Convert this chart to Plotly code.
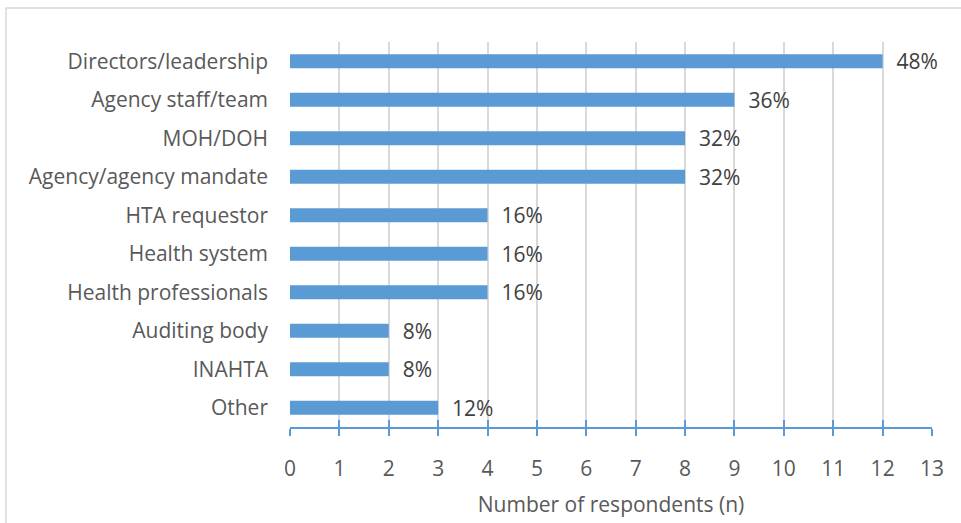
import plotly.graph_objects as go

categories = ["Directors/leadership", "Agency staff/team", "MOH/DOH", "Agency/agency mandate",
              "HTA requestor", "Health system", "Health professionals", "Auditing body", "INAHTA", "Other"]
counts = [12, 9, 8, 8, 4, 4, 4, 2, 2, 3]
pct_labels = ["48%", "36%", "32%", "32%", "16%", "16%", "16%", "8%", "8%", "12%"]
tick_vals = list(range(0, 14))

FONT = "Open Sans"
FS = 21
fig = go.Figure(go.Bar(
    y=categories, x=counts, orientation="h",
    marker=dict(color="#5B9BD5", line=dict(width=0)),
    text=pct_labels, texttemplate="\u00a0\u00a0%{text}", textposition="outside", constraintext="none",
    textfont=dict(family=FONT, size=FS, color="#404040"),
    cliponaxis=False,
))
# invisible overlay axis for inward tick marks
fig.add_trace(go.Scatter(x=[0], y=[categories[0]], xaxis="x2", mode="markers",
                         marker=dict(opacity=0), hoverinfo="skip", showlegend=False))
fig.update_layout(
    width=961, height=523,
    margin=dict(l=290, r=29, t=42, b=96, autoexpand=False),
    paper_bgcolor="white", plot_bgcolor="white",
    bargap=0.63,
    showlegend=False,
    font=dict(family=FONT, size=FS, color="#595959"),
    xaxis=dict(
        range=[0, 13], tickvals=tick_vals, showgrid=True, gridcolor="#D9D9D9", gridwidth=1.5,
        zeroline=False, showline=True, linecolor="#5B9BD5", linewidth=2,
        ticks="outside", ticklen=7, tickcolor="#5B9BD5", tickwidth=1.5,
        ticklabelstandoff=15,
        tickfont=dict(family=FONT, size=FS, color="#595959"),
        title=dict(text="Number of respondents (n)", font=dict(family=FONT, size=FS, color="#595959"), standoff=16),
    ),
    xaxis2=dict(
        range=[0, 13], tickvals=tick_vals, overlaying="x", anchor="y", side="bottom",
        showgrid=False, zeroline=False, showline=False, showticklabels=False,
        ticks="inside", ticklen=7, tickcolor="#5B9BD5", tickwidth=1.5,
    ),
    yaxis=dict(
        range=[len(categories) - 0.5, -0.5], showgrid=False, zeroline=False, showline=False,
        ticks="", ticklabelstandoff=21,
        tickfont=dict(family=FONT, size=FS, color="#595959"),
    ),
    shapes=[dict(type="rect", xref="paper", yref="paper", x0=-284/642, x1=1.1, y0=-0.5, y1=1 + 34/385,
                 line=dict(color="#D9D9D9", width=1.5), fillcolor="rgba(0,0,0,0)", layer="below")],
)
fig.write_html("out.html", config={"displayModeBar": False},
               post_script="document.body.style.margin='0';document.body.style.padding='0';")
